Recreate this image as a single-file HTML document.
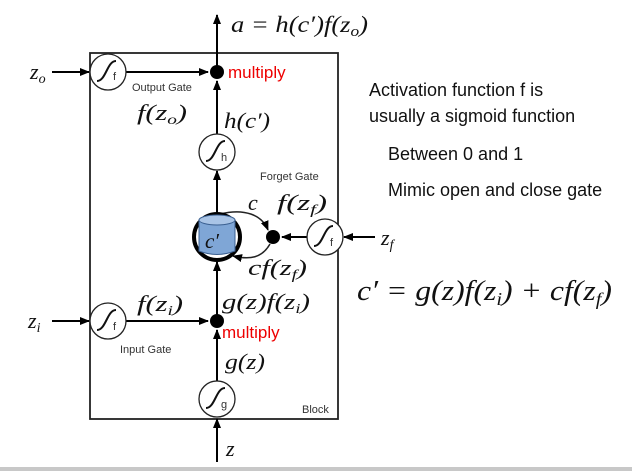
<!DOCTYPE html>
<html><head><meta charset="utf-8"><style>
html,body{margin:0;padding:0;background:#fff;}
svg{display:block;}
.m{font-family:"Liberation Serif",serif;font-style:italic;fill:#111;}
.s{font-family:"Liberation Sans",sans-serif;font-size:11px;fill:#333;}
.r{font-family:"Liberation Sans",sans-serif;font-size:17px;fill:#e00;}
.t{font-family:"Liberation Sans",sans-serif;font-size:18px;fill:#111;}
</style></head><body>
<svg width="632" height="471" viewBox="0 0 632 471" xmlns="http://www.w3.org/2000/svg">
<defs>
<marker id="a" markerWidth="10" markerHeight="10" refX="9" refY="5" orient="auto" markerUnits="userSpaceOnUse"><path d="M0,1 L10,5 L0,9 Z" fill="#000"/></marker>
<g id="sig"><circle r="18" fill="#fff" stroke="#222" stroke-width="1.3"/><path d="M-11,9 C-2,9 -1,-11 8,-11" fill="none" stroke="#111" stroke-width="2"/></g>
</defs>
<rect x="0" y="0" width="632" height="471" fill="#fff"/>
<rect x="0" y="467" width="632" height="4" fill="#c8c8c8"/>
<rect x="90" y="53" width="248" height="366" fill="none" stroke="#222" stroke-width="1.8"/>
<line x1="217" y1="462" x2="217" y2="419" stroke="#000" stroke-width="2" marker-end="url(#a)"/>
<line x1="217" y1="381" x2="217" y2="330" stroke="#000" stroke-width="2" marker-end="url(#a)"/>
<line x1="217" y1="321" x2="217" y2="262" stroke="#000" stroke-width="2" marker-end="url(#a)"/>
<line x1="217" y1="214" x2="217" y2="171" stroke="#000" stroke-width="2" marker-end="url(#a)"/>
<line x1="217" y1="134" x2="217" y2="81" stroke="#000" stroke-width="2" marker-end="url(#a)"/>
<line x1="217" y1="72" x2="217" y2="15" stroke="#000" stroke-width="2" marker-end="url(#a)"/>
<line x1="52" y1="72" x2="89" y2="72" stroke="#000" stroke-width="2" marker-end="url(#a)"/>
<line x1="126" y1="72" x2="208" y2="72" stroke="#000" stroke-width="2" marker-end="url(#a)"/>
<line x1="52" y1="321" x2="89" y2="321" stroke="#000" stroke-width="2" marker-end="url(#a)"/>
<line x1="126" y1="321" x2="208" y2="321" stroke="#000" stroke-width="2" marker-end="url(#a)"/>
<line x1="375" y1="237" x2="344" y2="237" stroke="#000" stroke-width="2" marker-end="url(#a)"/>
<line x1="307" y1="237" x2="282" y2="237" stroke="#000" stroke-width="2" marker-end="url(#a)"/>
<path d="M220,214 C245,208 262,215 268,230" fill="none" stroke="#222" stroke-width="1.5" marker-end="url(#a)"/>
<path d="M270,244 C262,258 250,260 233,256" fill="none" stroke="#222" stroke-width="1.5" marker-end="url(#a)"/>
<circle cx="217" cy="72" r="7" fill="#000"/>
<circle cx="217" cy="321" r="7" fill="#000"/>
<circle cx="273" cy="237" r="7" fill="#000"/>
<use href="#sig" x="108" y="72"/><text class="s" x="113" y="80">f</text>
<use href="#sig" x="217" y="152"/><text class="s" x="221" y="161">h</text>
<use href="#sig" x="108" y="321"/><text class="s" x="113" y="330">f</text>
<use href="#sig" x="217" y="399"/><text class="s" x="221" y="408">g</text>
<use href="#sig" x="325" y="237"/><text class="s" x="330" y="246">f</text>
<circle cx="217" cy="237" r="23" fill="#fff" stroke="#000" stroke-width="4"/>
<path d="M199,220 L199,251 Q217,258 235,251 L235,220 Z" fill="#7fa6d6" stroke="#3a5f90" stroke-width="1"/>
<ellipse cx="217" cy="220" rx="18" ry="5" fill="#a9c4e6" stroke="#3a5f90" stroke-width="1"/>
<text class="m" x="205" y="248" style="font-size:21px">c′</text>
<text class="m" x="231" y="32" style="font-size:23px" textLength="137" lengthAdjust="spacingAndGlyphs">a = h(c′)f(z<tspan style="font-size:15px" dy="4">o</tspan><tspan dy="-4">)</tspan></text>
<text class="m" x="30" y="79" style="font-size:22px">z<tspan style="font-size:14px" dy="4">o</tspan></text>
<text class="r" x="228" y="78">multiply</text>
<text class="s" x="132" y="91">Output Gate</text>
<text class="m" x="137" y="120" style="font-size:22px" textLength="50" lengthAdjust="spacingAndGlyphs">f(z<tspan style="font-size:14px" dy="4">o</tspan><tspan dy="-4">)</tspan></text>
<text class="m" x="224" y="128" style="font-size:22px" textLength="46" lengthAdjust="spacingAndGlyphs">h(c′)</text>
<text class="s" x="260" y="180">Forget Gate</text>
<text class="m" x="248" y="210" style="font-size:22px">c</text>
<text class="m" x="277" y="210" style="font-size:22px" textLength="50" lengthAdjust="spacingAndGlyphs">f(z<tspan style="font-size:14px" dy="4">f</tspan><tspan dy="-4">)</tspan></text>
<text class="m" x="381" y="245" style="font-size:22px">z<tspan style="font-size:14px" dy="4">f</tspan></text>
<text class="m" x="248" y="275" style="font-size:22px" textLength="59" lengthAdjust="spacingAndGlyphs">cf(z<tspan style="font-size:14px" dy="4">f</tspan><tspan dy="-4">)</tspan></text>
<text class="m" x="28" y="328" style="font-size:22px">z<tspan style="font-size:14px" dy="4">i</tspan></text>
<text class="m" x="137" y="311" style="font-size:22px" textLength="46" lengthAdjust="spacingAndGlyphs">f(z<tspan style="font-size:14px" dy="4">i</tspan><tspan dy="-4">)</tspan></text>
<text class="m" x="222" y="309" style="font-size:22px" textLength="88" lengthAdjust="spacingAndGlyphs">g(z)f(z<tspan style="font-size:14px" dy="4">i</tspan><tspan dy="-4">)</tspan></text>
<text class="r" x="222" y="338">multiply</text>
<text class="s" x="120" y="353">Input Gate</text>
<text class="m" x="225" y="369" style="font-size:22px" textLength="40" lengthAdjust="spacingAndGlyphs">g(z)</text>
<text class="s" x="302" y="413">Block</text>
<text class="m" x="226" y="456" style="font-size:22px">z</text>
<text class="t" x="369" y="96">Activation function f is</text>
<text class="t" x="369" y="122">usually a sigmoid function</text>
<text class="t" x="388" y="160">Between 0 and 1</text>
<text class="t" x="388" y="196">Mimic open and close gate</text>
<text class="m" x="357" y="300" style="font-size:28px" textLength="255" lengthAdjust="spacingAndGlyphs">c′ = g(z)f(z<tspan style="font-size:18px" dy="5">i</tspan><tspan dy="-5">) + cf(z</tspan><tspan style="font-size:18px" dy="5">f</tspan><tspan dy="-5">)</tspan></text>
</svg>
</body></html>
